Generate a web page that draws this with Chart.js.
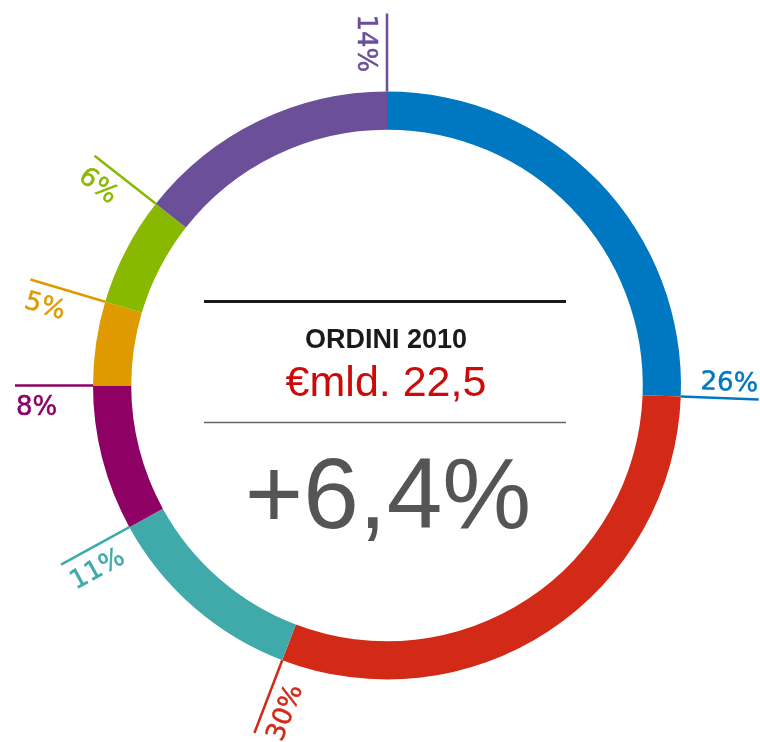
<!DOCTYPE html>
<html>
<head>
<meta charset="utf-8">
<script src="https://cdn.jsdelivr.net/npm/chart.js@4.4.1/dist/chart.umd.min.js"></script>
<style>
  html, body { margin: 0; padding: 0; background: #ffffff; }
  #wrap { width: 760px; height: 742px; }
</style>
</head>
<body>
<div id="wrap"><canvas id="c" width="760" height="742"></canvas></div>
<script>
// Segments clockwise from 12 o'clock
const categories = ['Segmento 1', 'Segmento 2', 'Segmento 3', 'Segmento 4', 'Segmento 5', 'Segmento 6', 'Segmento 7'];
const shares = [25.6, 30.2, 11.2, 8.0, 4.6, 6.0, 14.4];
const shareLabels = ['26%', '30%', '11%', '8%', '5%', '6%', '14%'];
const colors = ['#0077c1', '#d32a18', '#40aaaa', '#8e0064', '#df9a00', '#89b800', '#6b4f99'];

const centerTitle = 'ORDINI 2010';
const centerAmount = '€mld. 22,5';
const centerChange = '+6,4%';

const decorPlugin = {
  id: 'decor',
  afterDatasetsDraw(chart) {
    const ctx = chart.ctx;
    const meta = chart.getDatasetMeta(0);
    const first = meta.data[0];
    const cx = first.x, cy = first.y;
    const outer = first.outerRadius;
    const lineLen = 78;

    // boundary lines + labels
    meta.data.forEach((arc, i) => {
      const a = arc.endAngle;
      const r0 = outer, r1 = outer + lineLen;
      ctx.save();
      ctx.strokeStyle = colors[i];
      ctx.lineWidth = 2.5;
      ctx.beginPath();
      ctx.moveTo(cx + Math.cos(a) * r0, cy + Math.sin(a) * r0);
      ctx.lineTo(cx + Math.cos(a) * r1, cy + Math.sin(a) * r1);
      ctx.stroke();

      // clockwise angle from top
      let t = (a + Math.PI / 2) % (2 * Math.PI);
      if (t < 0) t += 2 * Math.PI;
      const flip = (t > Math.PI) || (t < 1e-6) || (t > 2 * Math.PI - 1e-6);
      ctx.fillStyle = colors[i];
      ctx.strokeStyle = colors[i];
      ctx.lineWidth = 0.5;
      ctx.lineJoin = 'round';
      ctx.font = '26px "DejaVu Sans", sans-serif';
      ctx.translate(cx, cy);
      let x, y;
      if (!flip) {
        ctx.rotate(a);
        ctx.textAlign = 'right';
        ctx.textBaseline = 'alphabetic';
        x = r1 - 1; y = -8;
      } else {
        ctx.rotate(a + Math.PI);
        ctx.textAlign = 'left';
        ctx.textBaseline = 'alphabetic';
        x = -r1 + 1; y = 10 + 19;
      }
      ctx.fillText(shareLabels[i], x, y);
      ctx.strokeText(shareLabels[i], x, y);
      ctx.restore();
    });

    // center block
    ctx.save();
    ctx.strokeStyle = '#1a1a1a';
    ctx.lineWidth = 3;
    ctx.beginPath();
    ctx.moveTo(cx - 183, 301.5);
    ctx.lineTo(cx + 179, 301.5);
    ctx.stroke();

    ctx.strokeStyle = '#666666';
    ctx.lineWidth = 1.5;
    ctx.beginPath();
    ctx.moveTo(cx - 183, 422.5);
    ctx.lineTo(cx + 179, 422.5);
    ctx.stroke();

    ctx.textAlign = 'center';
    ctx.textBaseline = 'alphabetic';
    ctx.fillStyle = '#1a1a1a';
    ctx.font = 'bold 27px "Liberation Sans", Arial, sans-serif';
    ctx.fillText(centerTitle, cx - 1, 348);

    ctx.fillStyle = '#cc0a0a';
    ctx.font = '43px "Liberation Sans", Arial, sans-serif';
    ctx.fillText(centerAmount, cx - 1, 396);

    ctx.fillStyle = '#555555';
    ctx.font = '100px "Liberation Sans", Arial, sans-serif';
    ctx.fillText(centerChange, cx + 1, 528);
    ctx.restore();
  }
};

new Chart(document.getElementById('c'), {
  type: 'doughnut',
  data: {
    labels: categories,
    datasets: [{
      data: shares,
      backgroundColor: colors,
      borderWidth: 0,
      hoverOffset: 0
    }]
  },
  options: {
    responsive: false,
    animation: false,
    cutout: '87%',
    rotation: 0,
    layout: { padding: { left: 93, top: 91.5, right: 79, bottom: 62.5 } },
    plugins: {
      legend: { display: false },
      tooltip: { enabled: false }
    },
    events: []
  },
  plugins: [decorPlugin]
});
</script>
</body>
</html>
